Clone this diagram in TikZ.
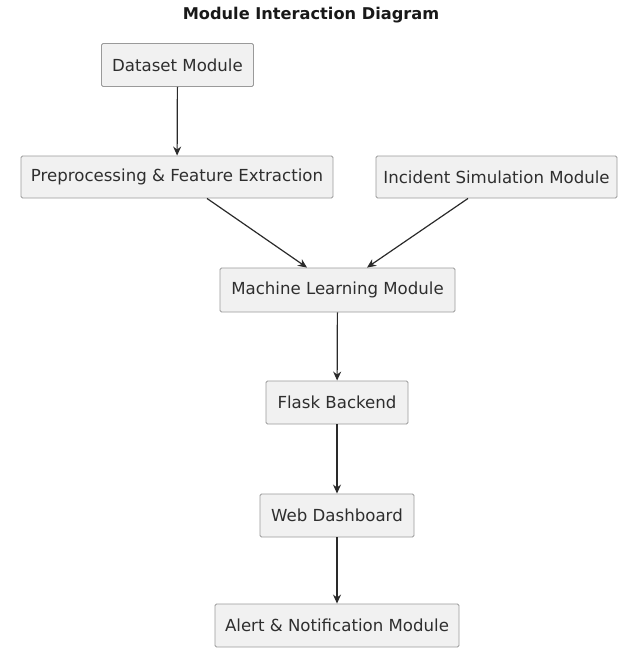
\documentclass[tikz,border=0pt]{standalone}
\usepackage{fontspec}
\setmainfont{DejaVu Sans}
\usetikzlibrary{arrows.meta}
\definecolor{boxfill}{HTML}{F1F1F1}
\definecolor{boxline}{HTML}{9A9A9A}
\definecolor{linkcol}{HTML}{2A2A2A}
\tikzset{
  module/.style={draw=boxline, fill=boxfill, line width=0.9pt, rounded corners=1.5pt,
    inner sep=0pt, font=\fontsize{16.6}{19}\selectfont, text=black!82},
  link/.style={draw=linkcol, line width=1.2pt, -{Stealth[length=9pt,width=8pt]}},
}
\begin{document}
\begin{tikzpicture}[x=1pt,y=-1pt]
\useasboundingbox (0,0) rectangle (625,650);
\node[font=\bfseries\fontsize{16.2}{18}\selectfont, text=black!90] (title) at (311,15) {Module Interaction Diagram};
\node[module, minimum width=152pt, minimum height=43pt] (ds) at (177.5,65) {Dataset Module};
\node[module, minimum width=312pt, minimum height=42pt] (pre) at (177,177) {Preprocessing \& Feature Extraction};
\node[module, minimum width=241pt, minimum height=42pt] (inc) at (496.5,177) {Incident Simulation Module};
\node[module, minimum width=235pt, minimum height=44pt] (ml) at (337.5,290) {Machine Learning Module};
\node[module, minimum width=142pt, minimum height=43pt] (fl) at (337,402.5) {Flask Backend};
\node[module, minimum width=154pt, minimum height=43pt] (web) at (337,515.5) {Web Dashboard};
\node[module, minimum width=244pt, minimum height=43pt] (al) at (337,625.5) {Alert \& Notification Module};
\draw[link] (ds) -- (pre);
\draw[link] (pre.south -| 207,0) -- (ml.north -| 307,0);
\draw[link] (inc.south -| 468,0) -- (ml.north -| 367,0);
\draw[link] (ml) -- (fl);
\draw[link] (fl) -- (web);
\draw[link] (web) -- (al);
\end{tikzpicture}
\end{document}
